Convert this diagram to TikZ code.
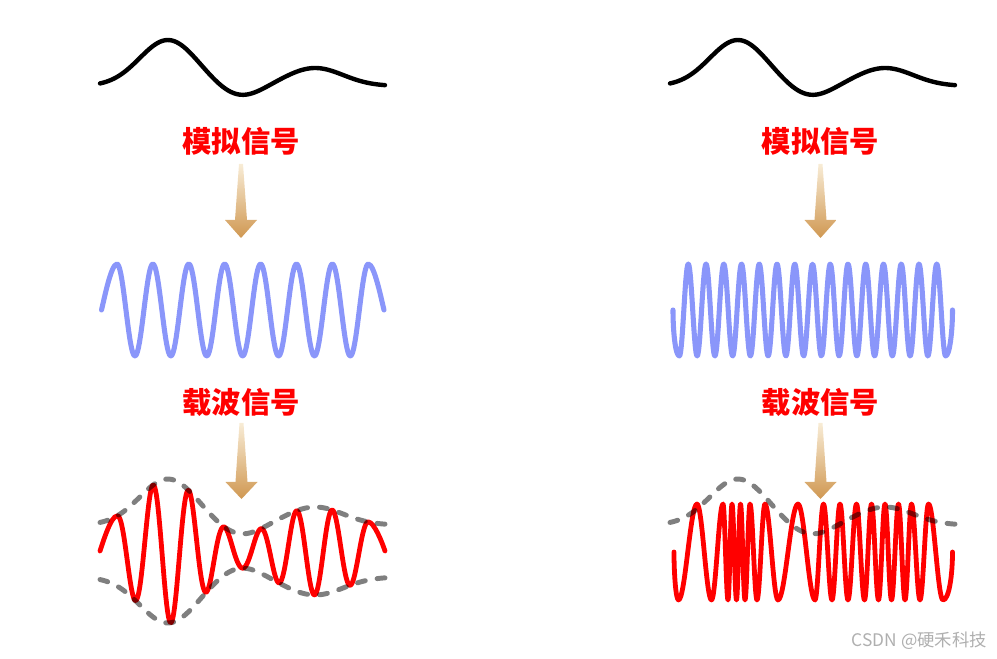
\documentclass[tikz,border=0pt]{standalone}
\usepackage{fontspec}
\newfontfamily\cjk{Noto Sans CJK SC}
\definecolor{blueW}{RGB}{138,150,250}
\definecolor{redW}{RGB}{255,0,0}
\definecolor{arrT}{RGB}{248,236,214}
\definecolor{arrB}{RGB}{208,152,82}
\definecolor{wm}{RGB}{175,175,175}
\begin{document}
\begin{tikzpicture}[x=0.75pt,y=-0.75pt,
  declare function={gg(\x,\m,\w)=exp(-min(((\x-\m)/\w)*((\x-\m)/\w),9));
    hh(\x)=10+46*gg(\x,68,40)-11*gg(\x,140,30)+18*gg(\x,215,40);
    AA(\x)=16+hh(\x-100);},
  msig/.style={line width=3.3pt, line cap=round, line join=round, draw=black},
  carrier/.style={line width=3.8pt, line cap=round, line join=round, draw=blueW},
  modwave/.style={line width=3.6pt, line cap=round, line join=round, draw=redW},
  env/.style={line width=3.7pt, line cap=round, draw=black, draw opacity=0.5, dash pattern=on 6pt off 9pt},
  lab/.style={font=\cjk\bfseries\fontsize{22}{26}\selectfont, text=redW, inner sep=0pt},
  goldarrow/.style={top color=arrT, bottom color=arrB, draw=none}]
\useasboundingbox (0,0) rectangle (997,659);

% ---------- modulating signals ----------
\draw[msig] plot[domain=0:285,samples=140] ({100+\x},{96-hh(\x)});
\draw[msig] plot[domain=0:285,samples=140] ({670+\x},{96-hh(\x)});

% ---------- labels ----------
\node[lab] (analogL) at (241,141) {模拟信号};
\node[lab] (analogR) at (820.5,141) {模拟信号};
\node[lab] (carrL) at (241,402) {载波信号};
\node[lab] (carrR) at (820.5,402) {载波信号};

% ---------- gold arrows ----------
\foreach \cx/\yt/\yb/\yp in {241/164/220/238, 820.5/164/220/238, 241.5/423/482/499, 820.5/423/482/499}{
  \shade[goldarrow] (\cx-2,\yt) -- (\cx+2,\yt) -- (\cx+6,\yb) -- (\cx+16,\yb) -- (\cx,\yp)
     -- (\cx-16,\yb) -- (\cx-6,\yb) -- cycle;
}

% ---------- carriers ----------
\draw[carrier] (101.5,310) .. controls (104,300) and (111,264) .. (117,264)
  -- plot[domain=117:368.3,samples=260] (\x,{310-46*cos((\x-117)*10.0279)})
  .. controls (374.3,264) and (381.5,300) .. (384,310);
\draw[carrier] (673,310) .. controls (673,332) and (675.5,356) .. (679.4,356)
  -- plot[domain=679.4:945.6,samples=420] (\x,{310+46*cos((\x-679.4)*20.285)})
  .. controls (949.5,356) and (952.5,332) .. (952.5,310);

% ---------- AM ----------
\draw[modwave] (100,551) .. controls (103,542) and (111,{551-AA(117)}) .. (117,{551-AA(117)})
  -- plot[domain=117:368.3,samples=320] (\x,{551-AA(\x)*cos((\x-117)*10.0279)})
  .. controls (374,{551-AA(368.3)}) and (382,542) .. (385,551);
\draw[env] plot[domain=100:385,samples=120] (\x,{551-AA(\x)});
\draw[env] plot[domain=100:385,samples=120] (\x,{551+AA(\x)});

% ---------- FM ----------
\draw[modwave] (674,552) .. controls (674,575) and (676,600) .. (678.5,600)
  \foreach \xa/\ya/\xb/\yb in {678.5/600/697/504, 697/504/711.5/600, 711.5/600/723/504,
     723/504/728/600, 728/600/732/504, 732/504/736.5/600, 736.5/600/740.5/504,
     740.5/504/745/600, 745/600/750/504, 750/504/757/600, 757/600/765/504,
     765/504/778/600, 778/600/798/504, 798/504/815/600, 815/600/823.5/504,
     823.5/504/832/600, 832/600/840/504, 840/504/848/600, 848/600/856.5/504,
     856.5/504/864.5/600, 864.5/600/871.5/504, 871.5/504/878.5/600, 878.5/600/885/504,
     885/504/891.5/600, 891.5/600/898.5/504, 898.5/504/905/600, 905/600/911.5/504,
     911.5/504/920/600, 920/600/928.5/504, 928.5/504/943/600}{
     .. controls ({\xa+0.36*(\xb-\xa)},\ya) and ({\xb-0.36*(\xb-\xa)},\yb) .. (\xb,\yb) }
  .. controls (949,600) and (952.5,575) .. (952.5,552);
\draw[env] plot[domain=670:955,samples=120] (\x,{535-hh(\x-670)});

% ---------- watermark ----------
\node[font=\cjk\fontsize{13}{15}\selectfont, text=wm, anchor=east, inner sep=0pt] (wmark) at (987,641) {CSDN @硬禾科技};
\end{tikzpicture}
\end{document}
